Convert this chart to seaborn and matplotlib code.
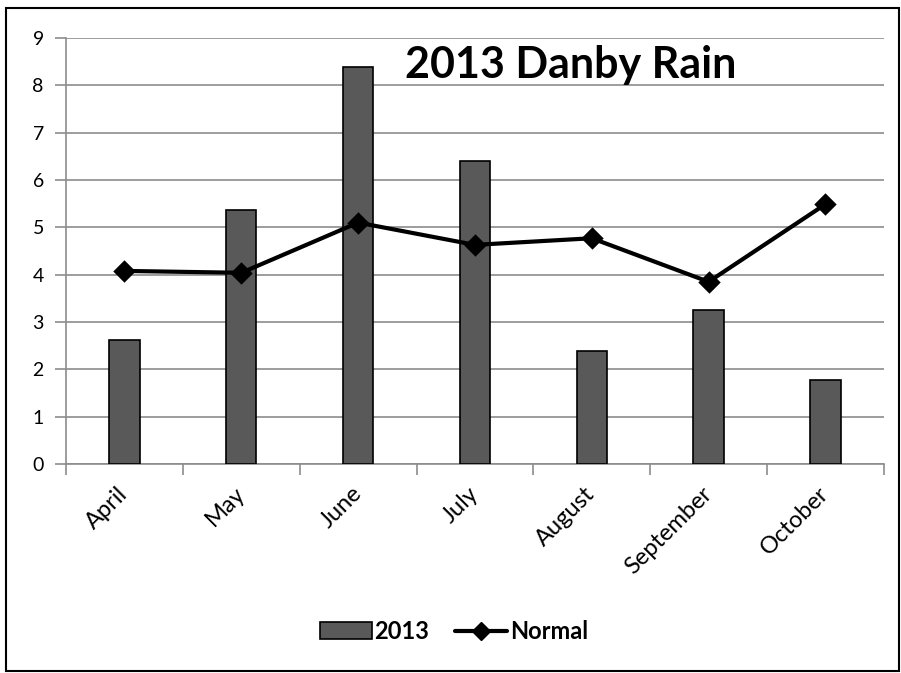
import matplotlib
matplotlib.use("Agg")
import matplotlib.pyplot as plt
import seaborn as sns
import pandas as pd
from matplotlib.patches import Rectangle, Patch
from matplotlib.lines import Line2D

months = ["April", "May", "June", "July", "August", "September", "October"]
rain_2013 = [2.62, 5.36, 8.38, 6.41, 2.39, 3.25, 1.77]
normal = [4.08, 4.04, 5.10, 4.63, 4.77, 3.85, 5.49]

df = pd.DataFrame({"month": months, "rain": rain_2013, "normal": normal})

sns.set_style("white")
plt.rcParams['font.family'] = ['Lato', 'DejaVu Sans']
plt.rcParams['text.color'] = 'black'
plt.rcParams['xtick.color'] = 'black'
plt.rcParams['ytick.color'] = 'black'

fig = plt.figure(figsize=(9.01, 6.73), dpi=100)
ax = fig.add_axes([0.0733, 0.3105, 0.9077, 0.633])

sns.barplot(data=df, x="month", y="rain", color="#595959", width=0.26,
            edgecolor="black", linewidth=1.2, saturation=1, ax=ax, zorder=3)
sns.pointplot(data=df, x="month", y="normal", color="black", markers="D",
              linestyles="-", ax=ax, zorder=4,
              **{"markersize": 9, "linewidth": 3})

ax.set_xlim(-0.5, 6.5)
ax.set_ylim(0, 9)
ax.set_yticks(range(0, 10))
ax.yaxis.grid(True, color="#8c8c8c", linewidth=1.2, zorder=0)
ax.set_axisbelow(True)
ax.set_xlabel("")
ax.set_ylabel("")

for s in ["top", "right"]:
    ax.spines[s].set_visible(False)
ax.spines["left"].set_color("#8c8c8c")
ax.spines["bottom"].set_color("#8c8c8c")
ax.spines["left"].set_linewidth(1.2)
ax.spines["bottom"].set_linewidth(1.2)

ax.tick_params(axis="y", length=8, color="#8c8c8c", width=1.2, labelsize=14,
               labelcolor="black", pad=8, left=True)
ax.tick_params(axis="x", which="major", length=0, labelsize=17, labelcolor="black", pad=19)
ax.set_xticks([i + 0.5 for i in range(-1, 7)], minor=True)
ax.tick_params(axis="x", which="minor", length=8, color="#8c8c8c", width=1.2, bottom=True)
plt.setp(ax.get_xticklabels(), rotation=45, ha="right", va="center", rotation_mode="anchor")

fig.text(0.633, 0.884, "2013 Danby Rain", fontsize=31, fontweight="bold",
         color="black", ha="center", va="baseline")

handles = [Patch(facecolor="#595959", edgecolor="black", linewidth=1.2),
           Line2D([], [], color="black", marker="D", markersize=9, linewidth=3)]
fig.legend(handles, ["2013", "Normal"], loc="center", bbox_to_anchor=(0.504, 0.062),
           ncol=2, frameon=False, prop={"weight": "bold", "size": 17},
           handlelength=2.2, handletextpad=0.1, columnspacing=1.1)

fig.patches.append(Rectangle((0.007, 0.003), 0.991, 0.985, transform=fig.transFigure,
                             fill=False, edgecolor="black", linewidth=1.5))

fig.savefig("out.png", dpi=100)
